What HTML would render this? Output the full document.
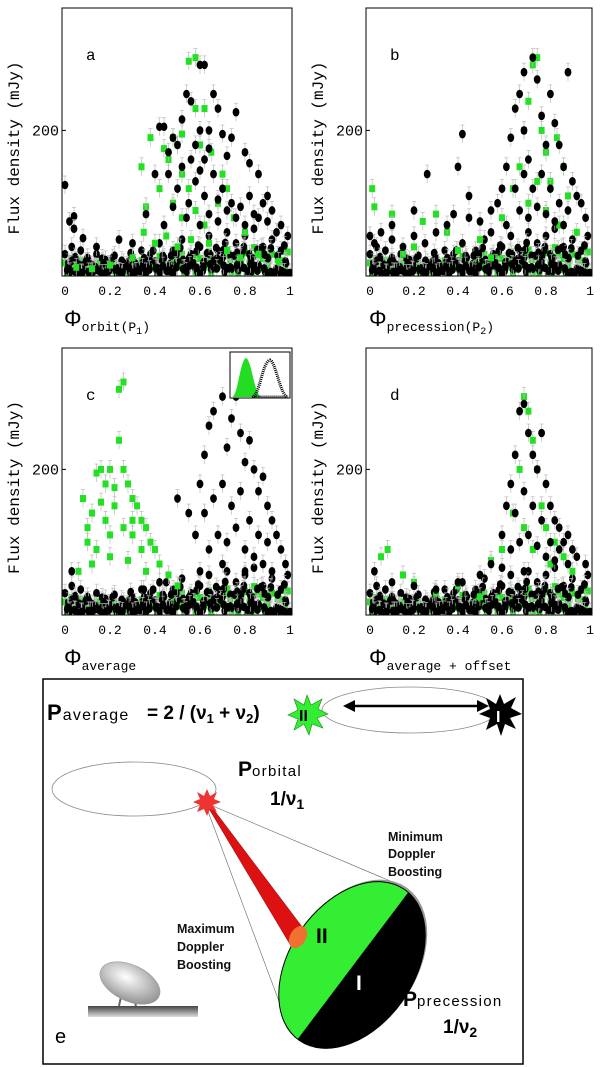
<!DOCTYPE html>
<html><head><meta charset="utf-8">
<style>
html,body{margin:0;padding:0;background:#fff;}
svg{display:block;}
.mono{font-family:"Liberation Mono",monospace;}
.sans{font-family:"Liberation Sans",sans-serif;}
</style></head>
<body>
<svg id="fig" width="600" height="1067" viewBox="0 0 600 1067" xmlns="http://www.w3.org/2000/svg">
<defs>
<linearGradient id="plat" x1="0" y1="0" x2="0" y2="1"><stop offset="0" stop-color="#444"/><stop offset="1" stop-color="#ddd"/></linearGradient>
<radialGradient id="dishg" cx="0.4" cy="0.4" r="0.7"><stop offset="0" stop-color="#fff"/><stop offset="1" stop-color="#888"/></radialGradient>
<clipPath id="diskclip"><ellipse cx="352" cy="965" rx="62" ry="92" transform="rotate(35 352 965)"/></clipPath>
</defs>
<g id="panels"></g>

<g>
<rect x="230" y="352" width="60" height="46" fill="#fff" stroke="#000" stroke-width="1"/>
<path d="M232 397 C238 396 240 360 246 358 C252 360 254 396 262 397 Z" fill="#22dd22"/>
<path d="M252 397 C260 396 262 362 270 360 C276 362 280 396 288 397 Z" fill="none" stroke="#000" stroke-width="3" stroke-dasharray="1 1"/>
</g>

<g>
<rect x="43" y="679" width="480" height="385" fill="none" stroke="#000" stroke-width="1.5"/>
<text x="47" y="720" class="sans" font-weight="bold" font-size="22">P<tspan font-weight="normal" font-size="16" dx="1" letter-spacing="1.3">average</tspan></text>
<text x="147" y="719" class="sans" font-weight="bold" font-size="19">= 2 / (ν<tspan font-size="13" dy="4">1</tspan><tspan dy="-4"> +  ν</tspan><tspan font-size="13" dy="4">2</tspan><tspan dy="-4">)</tspan></text>
<ellipse cx="410" cy="710" rx="88" ry="23" fill="none" stroke="#888" stroke-width="0.8"/>
<line x1="350" y1="706" x2="481" y2="706" stroke="#000" stroke-width="2.5"/>
<polygon points="343,706 355,700 355,712" fill="#000"/>
<polygon points="489,706 477,700 477,712" fill="#000"/>
<polygon fill="#33ee33" stroke="#118811" stroke-width="0.6" transform="translate(17 2)" points="290,693 294,703 305,697 301,707 311,712 300,716 306,726 295,722 292,733 287,722 277,728 281,717 271,713 281,708 277,697 287,703"/>
<text x="299" y="721" class="sans" font-weight="bold" font-size="16">II</text>
<polygon fill="#000" transform="translate(23 0)" points="477,694 481,704 493,697 488,708 499,714 487,718 493,729 482,724 478,736 474,724 463,730 467,718 456,714 467,709 463,698 473,704"/>
<text x="496" y="722" class="sans" font-weight="bold" font-size="16" fill="#fff">I</text>
<ellipse cx="134" cy="789" rx="82" ry="27" fill="none" stroke="#888" stroke-width="0.8"/>
<text x="238" y="776" class="sans" font-weight="bold" font-size="21">P<tspan font-weight="normal" font-size="15" letter-spacing="1.3">orbital</tspan></text>
<text x="270" y="805" class="sans" font-weight="bold" font-size="19">1/ν<tspan font-size="14" dy="4">1</tspan></text>
<line x1="206" y1="806" x2="283" y2="1012" stroke="#666" stroke-width="0.6"/>
<line x1="208" y1="804" x2="395" y2="883" stroke="#666" stroke-width="0.6"/>
<ellipse cx="354" cy="963" rx="62" ry="92" transform="rotate(35 354 963)" fill="#999"/>
<g clip-path="url(#diskclip)">
<rect x="270" y="860" width="170" height="200" fill="#000"/>
<polygon points="410,890 297,1040 270,1060 270,860 410,860" fill="#33ee33"/>
</g>
<ellipse cx="352" cy="965" rx="62" ry="92" transform="rotate(35 352 965)" fill="none" stroke="#000" stroke-width="1"/>
<polygon points="205,802 211,806 306,932 291,946" fill="#dd1111" stroke="#880000" stroke-width="0.5"/>
<ellipse cx="298" cy="937" rx="8" ry="12" transform="rotate(30 298 937)" fill="#f07030"/>
<polygon fill="#ee3333" points="207,789 210,796 217,792 214,799 221,802 213,805 217,812 210,809 207,816 204,809 197,812 200,805 193,802 200,799 197,792 204,796"/>
<text x="316" y="943" class="sans" font-weight="bold" font-size="21">II</text>
<text x="356" y="990" class="sans" font-weight="bold" font-size="21" fill="#fff">I</text>
<g class="sans" font-weight="bold" font-size="12.5" fill="#111">
<text x="388" y="841">Minimum</text><text x="388" y="858">Doppler</text><text x="388" y="876">Boosting</text>
<text x="177" y="933">Maximum</text><text x="177" y="951">Doppler</text><text x="177" y="969">Boosting</text>
</g>
<text x="403" y="1006" class="sans" font-weight="bold" font-size="21">P<tspan font-weight="normal" font-size="15" letter-spacing="1.3">precession</tspan></text>
<text x="443" y="1033" class="sans" font-weight="bold" font-size="19">1/ν<tspan font-size="14" dy="4">2</tspan></text>
<g>
<rect x="88" y="1006" width="110" height="11" fill="url(#plat)"/>
<line x1="122" y1="992" x2="119" y2="1006" stroke="#666" stroke-width="2"/>
<line x1="132" y1="992" x2="136" y2="1006" stroke="#666" stroke-width="2"/>
<ellipse cx="130" cy="983" rx="32" ry="18" transform="rotate(25 130 983)" fill="url(#dishg)" stroke="#999" stroke-width="0.6"/>
</g>
<text x="55" y="1043" class="sans" font-size="20">e</text>
</g>

<script>
const baseX=[0.00,0.02,0.03,0.05,0.07,0.08,0.10,0.12,0.14,0.16,0.18,0.20,0.22,0.24,0.26,0.28,0.30,0.32,0.34,0.36,0.38,0.40,0.42,0.44,0.46,0.48,0.50,0.52,0.54,0.56,0.58,0.60,0.62,0.64,0.66,0.68,0.70,0.72,0.74,0.76,0.78,0.80,0.82,0.84,0.86,0.88,0.90,0.92,0.94,0.96,0.98,0.99,0.01,0.06,0.11,0.17,0.23,0.29,0.35,0.41,0.47,0.53,0.59,0.65,0.71,0.77,0.83,0.89,0.95,0.97];
const baseY=[30,15,40,20,35,10,25,15,30,10,22,12,28,8,18,10,25,12,35,15,30,20,45,25,10,35,20,50,15,30,10,40,20,55,15,35,25,60,10,45,20,55,30,65,15,40,25,50,10,35,20,55,8,6,5,6,4,5,6,8,6,8,5,9,6,8,7,6,9,5];
const base2X=[0.015,0.045,0.075,0.105,0.135,0.165,0.195,0.225,0.255,0.285,0.315,0.345,0.375,0.405,0.435,0.465,0.495,0.525,0.555,0.585,0.615,0.645,0.675,0.705,0.735,0.765,0.795,0.825,0.855,0.885,0.915,0.945,0.975];
const base2Y=[18,26,14,20,12,24,16,10,14,20,8,18,22,12,28,16,30,22,26,34,18,30,24,36,28,32,40,26,36,30,38,28,42];
// panel a
const aBlackX=[0.00,0.02,0.04,0.04,0.08,0.14,0.24,0.30,0.36,0.40,0.42,0.44,0.46,0.48,0.50,0.52,0.52,0.54,0.56,0.58,0.60,0.62,0.60,0.62,0.64,0.66,0.68,0.70,0.72,0.74,0.76,0.80,0.82,0.86,0.88,0.90,0.92,0.96,0.50,0.55,0.58,0.62,0.66,0.70,0.74,0.78,0.82,0.86,0.54,0.60,0.64,0.68,0.72,0.76,0.80,0.84,0.90,0.94,0.44,0.48,0.46,0.56,0.60,0.64,0.68];
const aBlackY=[125,75,82,65,52,40,50,45,85,140,205,205,170,190,180,215,150,250,240,180,290,290,200,160,200,250,230,195,165,190,225,170,155,140,100,110,90,70,120,100,130,110,140,120,100,95,110,80,80,70,85,75,90,80,70,85,75,60,70,95,140,160,145,175,105];
const aGreenX=[0.34,0.36,0.38,0.42,0.44,0.46,0.48,0.50,0.52,0.55,0.58,0.58,0.62,0.52,0.55,0.60,0.65,0.70,0.72,0.48,0.52,0.58,0.62,0.68,0.75,0.80,0.35,0.40,0.45,0.50,0.56,0.64,0.72,0.78,0.86,0.95,0.30,0.20,0.12,0.05];
const aGreenY=[150,95,190,120,175,160,190,180,195,295,300,230,230,140,120,180,170,140,120,100,80,90,70,100,80,60,60,45,55,40,50,45,35,25,30,20,25,15,10,12];
// panel b
const bBlackX=[0.00,0.02,0.05,0.10,0.15,0.20,0.25,0.30,0.35,0.38,0.42,0.40,0.45,0.50,0.55,0.58,0.60,0.62,0.64,0.66,0.68,0.70,0.70,0.72,0.74,0.76,0.78,0.80,0.82,0.84,0.86,0.88,0.90,0.92,0.94,0.96,0.98,0.66,0.70,0.74,0.78,0.82,0.86,0.90,0.68,0.72,0.76,0.80,0.84,0.88,0.26,0.20,0.10,0.45,0.55,0.62];
const bBlackY=[55,45,60,50,40,55,45,60,70,85,195,150,80,75,90,100,120,150,190,230,250,280,200,160,300,270,220,180,250,210,180,150,280,130,110,100,80,120,140,120,140,120,100,90,90,80,95,85,75,70,140,90,70,110,60,70];
const bGreenX=[0.01,0.02,0.10,0.20,0.24,0.30,0.35,0.50,0.60,0.65,0.68,0.70,0.72,0.74,0.76,0.78,0.80,0.82,0.85,0.88,0.90,0.72,0.76,0.80,0.86,0.94,0.40,0.15,0.55];
const bGreenY=[120,95,85,40,75,85,60,50,80,120,150,200,240,290,300,200,170,130,190,150,110,100,130,90,70,60,35,30,25];
// panel c
const cBlackX=[0.50,0.55,0.58,0.60,0.62,0.64,0.66,0.70,0.72,0.74,0.76,0.78,0.80,0.82,0.84,0.86,0.88,0.90,0.92,0.94,0.96,0.98,0.62,0.66,0.70,0.74,0.78,0.82,0.86,0.90,0.64,0.68,0.72,0.76,0.80,0.84,0.88,0.60,0.70,0.80,0.92,0.03,0.45,0.35];
const cBlackY=[160,140,110,180,220,260,280,300,230,270,300,250,210,240,200,170,190,150,130,110,90,70,140,160,180,150,170,130,110,100,90,110,100,120,90,80,70,60,70,60,60,60,45,35];
const cGreenX=[0.08,0.10,0.12,0.14,0.16,0.18,0.20,0.22,0.24,0.26,0.24,0.26,0.28,0.30,0.32,0.34,0.36,0.38,0.40,0.10,0.14,0.18,0.22,0.26,0.30,0.34,0.42,0.46,0.12,0.20,0.28,0.36,0.50,0.06,0.16,0.20,0.30];
const cGreenY=[160,120,140,195,200,180,200,175,310,320,240,200,180,160,150,130,120,100,90,100,90,130,150,120,110,90,70,55,70,80,75,60,40,60,155,110,130];
// panel d
const dBlackX=[0.02,0.10,0.20,0.30,0.40,0.50,0.55,0.60,0.62,0.64,0.66,0.68,0.70,0.72,0.74,0.76,0.78,0.80,0.82,0.84,0.86,0.88,0.90,0.92,0.94,0.98,0.66,0.70,0.74,0.78,0.82,0.86,0.64,0.68,0.72,0.76,0.80,0.84,0.90,0.60,0.70];
const dBlackY=[60,45,40,35,45,55,70,110,150,180,220,280,290,250,220,200,250,180,150,130,120,100,110,90,80,70,140,170,150,130,100,90,90,100,110,95,80,75,70,65,60];
const dGreenX=[0.05,0.08,0.15,0.20,0.40,0.55,0.60,0.65,0.68,0.70,0.72,0.74,0.76,0.78,0.80,0.84,0.88,0.92,0.70,0.74,0.82,0.30,0.50];
const dGreenY=[80,90,55,45,40,75,90,140,200,300,280,240,200,150,120,100,80,60,120,90,70,30,25];
const xTicks=[0,0.2,0.4,0.6,0.8,1];
const xTickLabels=["0","0.2","0.4","0.6","0.8","1"];
const yTicks=[200];
const panelLetters=["a","b","c","d"];

const NS="http://www.w3.org/2000/svg";
const root=document.getElementById('panels');
function mk(tag,attrs,parent){const e=document.createElementNS(NS,tag);for(const k in attrs)e.setAttribute(k,attrs[k]);(parent||root).appendChild(e);return e;}

const panels=[
 {L:62,R:292,T:8,B:276,p0:65,p1:290,bx:aBlackX,by:aBlackY,gx:aGreenX,gy:aGreenY,lab:"orbit(P",sub:"1",tail:")",ylx:14},
 {L:366,R:592,T:8,B:276,p0:370,p1:590,bx:bBlackX,by:bBlackY,gx:bGreenX,gy:bGreenY,lab:"precession(P",sub:"2",tail:")",ylx:318},
 {L:62,R:292,T:348,B:615,p0:65,p1:290,bx:cBlackX,by:cBlackY,gx:cGreenX,gy:cGreenY,lab:"average",sub:"",tail:"",ylx:14},
 {L:366,R:592,T:348,B:615,p0:370,p1:590,bx:dBlackX,by:dBlackY,gx:dGreenX,gy:dGreenY,lab:"average + offset",sub:"",tail:"",ylx:318}
];
panels.forEach((P,i)=>{
 const sx=v=>P.p0+v*(P.p1-P.p0);
 const sy=v=>P.B-v*0.728;
 const g=mk('g',{});
 
 
 const cid='clip'+i;
 const cp=mk('clipPath',{id:cid},g);mk('rect',{x:P.L,y:P.T,width:P.R-P.L,height:P.B-P.T},cp);
 const pts=mk('g',{'clip-path':'url(#'+cid+')'},g);
 function dot(x,y,green){
   const X=sx(x),Y=sy(y);
   mk('line',{x1:X,y1:Y-9,x2:X,y2:Y+9,stroke:'#bbb','stroke-width':0.7},pts);
   mk('line',{x1:X-2,y1:Y-9,x2:X+2,y2:Y-9,stroke:'#bbb','stroke-width':0.7},pts);
   let m;
   if(green){m=mk('rect',{x:X-3,y:Y-3.5,width:6,height:7,fill:'#22e022'},pts);}
   else{m=mk('ellipse',{cx:X,cy:Y,rx:3.4,ry:4.3,fill:'#000'},pts);}
   
   
 }
 baseX.forEach((x,k)=>dot(x,baseY[k]*0.6,true));
 base2X.forEach((x,k)=>dot(x,base2Y[k]*0.8,true));
 baseX.forEach((x,k)=>dot(x,baseY[k],false));
 base2X.forEach((x,k)=>dot(x,base2Y[k],false));
 baseX.forEach((x,k)=>dot(Math.min(1,x+0.012),baseY[(k+7)%baseY.length]*0.7,false));
 base2X.forEach((x,k)=>dot(x,base2Y[(k+5)%base2Y.length]*0.4,false));
 if(i===2){P.bx.forEach((x,k)=>dot(x,P.by[k],false));P.gx.forEach((x,k)=>dot(x,P.gy[k],true));}
 else{P.gx.forEach((x,k)=>dot(x,P.gy[k],true));P.bx.forEach((x,k)=>dot(x,P.by[k],false));}
 const fr=mk('rect',{x:P.L,y:P.T,width:P.R-P.L,height:P.B-P.T,fill:'none',stroke:'#000','stroke-width':1},g);
 
 
 xTicks.forEach((t,k)=>{
   mk('line',{x1:sx(t),y1:P.B,x2:sx(t),y2:P.B-4,stroke:'#000'},g);
   const tl=mk('text',{x:sx(t),y:P.B+19,'text-anchor':'middle','font-size':13,class:'mono'},g);
   tl.textContent=xTickLabels[k];
   
   
 });
 yTicks.forEach(t=>{
   mk('line',{x1:P.L,y1:sy(t),x2:P.L+4,y2:sy(t),stroke:'#000'},g);
   const yl=mk('text',{x:P.L-3,y:sy(t)+5,'text-anchor':'end','font-size':15,class:'mono'},g);
   yl.textContent=String(t);
   
   
 });
 const lt=mk('text',{x:P.L+24,y:P.T+52,'font-size':16,class:'mono'},g);
 lt.textContent=panelLetters[i];
 
 
 const yt=mk('text',{x:P.ylx+5,y:(P.T+P.B)/2+6,'font-size':16,class:'mono','text-anchor':'middle',transform:'rotate(-90 '+(P.ylx+5)+' '+((P.T+P.B)/2+6)+')'},g);
 yt.textContent='Flux density (mJy)';
 
 
 const xt=mk('text',{x:P.p0-1,y:P.B+50,'font-size':22,class:'sans'},g);
 
 
 xt.appendChild(document.createTextNode('Φ'));
 const s1=mk('tspan',{'font-size':13,dy:5,class:'mono'},xt);s1.textContent=P.lab;
 if(P.sub){const s2=mk('tspan',{'font-size':10,dy:3,class:'mono'},xt);s2.textContent=P.sub;
   const s3=mk('tspan',{'font-size':13,dy:-3,class:'mono'},xt);s3.textContent=P.tail;}
});
</script>
</svg>
</body></html>
